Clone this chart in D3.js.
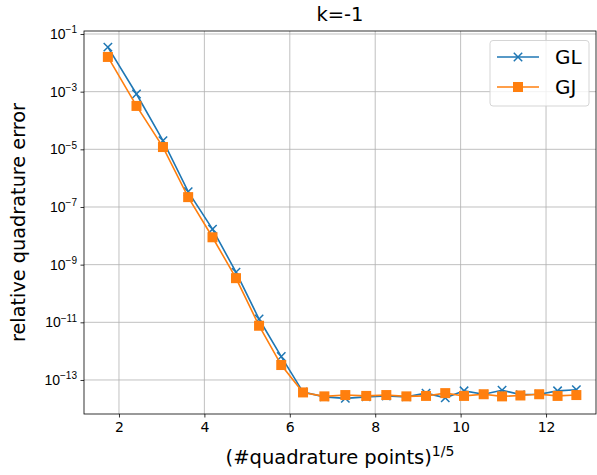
<!DOCTYPE html>
<html><head><meta charset="utf-8">
<script src="https://cdn.jsdelivr.net/npm/d3@7"></script>
<style>body{margin:0;background:#fff}svg{display:block;font-family:"DejaVu Sans",sans-serif}</style>
</head><body><svg id="c" width="597" height="475"></svg>
<script>
const xVals = [1.74, 2.41, 3.03, 3.62, 4.19, 4.74, 5.28, 5.80, 6.31, 6.81, 7.30, 7.79, 8.26, 8.73, 9.19, 9.64, 10.08, 10.54, 10.97, 11.40, 11.84, 12.27, 12.71];
const glVals = [3.5e-2, 8.3e-4, 2.0e-5, 3.4e-7, 1.7e-8, 5.5e-10, 1.3e-11, 6.5e-13, 3.8e-14, 2.6e-14, 2.3e-14, 2.6e-14, 2.8e-14, 2.6e-14, 3.5e-14, 2.4e-14, 4.2e-14, 3.2e-14, 4.4e-14, 3.1e-14, 3.2e-14, 4.2e-14, 4.6e-14];
const gjVals = [1.6e-2, 3.2e-4, 1.2e-5, 2.2e-7, 8.9e-9, 3.4e-10, 7.6e-12, 3.3e-13, 3.7e-14, 2.7e-14, 3.0e-14, 2.8e-14, 3.0e-14, 2.7e-14, 2.8e-14, 3.5e-14, 2.8e-14, 3.2e-14, 2.7e-14, 2.9e-14, 3.2e-14, 2.8e-14, 3.0e-14];
const xTicks = [2, 4, 6, 8, 10, 12];
const yTickExps = [-1, -3, -5, -7, -9, -11, -13];
const seriesNames = ["GL", "GJ"];
const titleText = "k=-1";

const svg = d3.select("#c");
const L = 84, R = 596, T = 31, B = 414;
const x = d3.scaleLinear().domain([1.181, 13.17]).range([L, R]);
const y = d3.scaleLog().domain([Math.pow(10, -14.18), Math.pow(10, -0.896)]).range([B, T]);
const blue = "#1f77b4", orange = "#ff7f0e";

// grid
const g = svg.append("g");
g.selectAll(".gx").data(xTicks).join("line")
  .attr("x1", d => x(d)).attr("x2", d => x(d)).attr("y1", T).attr("y2", B)
  .attr("stroke", "#b0b0b0").attr("stroke-width", 0.8);
g.selectAll(".gy").data(yTickExps).join("line")
  .attr("y1", d => y(Math.pow(10, d))).attr("y2", d => y(Math.pow(10, d))).attr("x1", L).attr("x2", R)
  .attr("stroke", "#b0b0b0").attr("stroke-width", 0.8);

// axes via d3
const xAxis = svg.append("g").attr("transform", `translate(0,${B})`)
  .call(d3.axisBottom(x).tickValues(xTicks).tickSize(3.5).tickPadding(3.5).tickFormat(d3.format("d")));
const yAxis = svg.append("g").attr("transform", `translate(${L},0)`)
  .call(d3.axisLeft(y).tickValues(yTickExps.map(e => Math.pow(10, e))).tickSize(3.5).tickPadding(3.5).tickFormat(""));
[xAxis, yAxis].forEach(a => {
  a.select(".domain").remove();
  a.selectAll(".tick line").attr("stroke", "#000").attr("stroke-width", 0.8);
  a.selectAll("text").attr("font-family", "DejaVu Sans").attr("font-size", 14).attr("fill", "#000");
});
xAxis.selectAll(".tick text").attr("dy", "0.75em");
yAxis.selectAll(".tick").each(function(d) {
  const e = Math.round(Math.log10(d));
  const t = d3.select(this).append("text").attr("x", -7).attr("dy", "0.32em")
    .attr("text-anchor", "end").attr("font-size", 14).attr("fill", "#000");
  t.append("tspan").text("10");
  t.append("tspan").attr("dy", "-0.55em").attr("font-size", 10).text("\u2212" + Math.abs(e));
});

// spines
svg.append("rect").attr("x", L).attr("y", T).attr("width", R - L).attr("height", B - T)
  .attr("fill", "none").attr("stroke", "#000").attr("stroke-width", 0.8);

// lines
const line = d3.line().x((d, i) => x(xVals[i])).y(d => y(d));
const plot = svg.append("g");
plot.append("path").datum(glVals).attr("d", line).attr("fill", "none").attr("stroke", blue).attr("stroke-width", 1.6);
plot.selectAll(".gl").data(glVals).join("path")
  .attr("transform", (d, i) => `translate(${x(xVals[i])},${y(d)})`)
  .attr("d", "M-4.2,-4.2L4.2,4.2M-4.2,4.2L4.2,-4.2").attr("stroke", blue).attr("stroke-width", 1.5).attr("fill", "none");
plot.append("path").datum(gjVals).attr("d", line).attr("fill", "none").attr("stroke", orange).attr("stroke-width", 1.6);
plot.selectAll(".gj").data(gjVals).join("rect")
  .attr("x", (d, i) => x(xVals[i]) - 5).attr("y", d => y(d) - 5).attr("width", 10).attr("height", 10)
  .attr("fill", orange);

// title and labels
svg.append("text").attr("x", (L + R) / 2).attr("y", 21).attr("text-anchor", "middle")
  .attr("font-size", 19.5).text(titleText);
svg.append("text").attr("transform", `translate(25,${(T + B) / 2}) rotate(-90)`).attr("text-anchor", "middle")
  .attr("font-size", 19.3).text("relative quadrature error");
const xl = svg.append("text").attr("x", (L + R) / 2).attr("y", 464).attr("text-anchor", "middle").attr("font-size", 19.5);
xl.append("tspan").text("(#quadrature points)");
xl.append("tspan").attr("dy", "-0.55em").attr("font-size", 14).text("1/5");

// legend
const lg = svg.append("g");
lg.append("rect").attr("x", 490).attr("y", 40.5).attr("width", 99).attr("height", 65.5).attr("rx", 3)
  .attr("fill", "#fff").attr("fill-opacity", 0.8).attr("stroke", "#d0d0d0").attr("stroke-width", 0.9);
const items = [{name: seriesNames[0], c: blue, ly: 57}, {name: seriesNames[1], c: orange, ly: 87}];
items.forEach((it, k) => {
  lg.append("line").attr("x1", 497).attr("x2", 539).attr("y1", it.ly).attr("y2", it.ly).attr("stroke", it.c).attr("stroke-width", 1.6);
  if (k === 0) lg.append("path").attr("transform", `translate(518,${it.ly})`).attr("d", "M-4.2,-4.2L4.2,4.2M-4.2,4.2L4.2,-4.2").attr("stroke", it.c).attr("stroke-width", 1.5);
  else lg.append("rect").attr("x", 513).attr("y", it.ly - 5).attr("width", 10).attr("height", 10).attr("fill", it.c);
  lg.append("text").attr("x", 555).attr("y", it.ly).attr("dy", "0.36em").attr("font-size", 20).text(it.name);
});
</script></body></html>
